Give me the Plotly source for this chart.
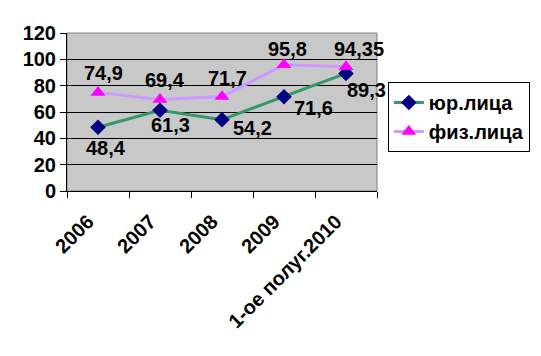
import plotly.graph_objects as go

categories = ["2006", "2007", "2008", "2009", "1-ое полуг.2010"]
yur_values = [48.4, 61.3, 54.2, 71.6, 89.3]
fiz_values = [74.9, 69.4, 71.7, 95.8, 94.35]
yur_labels = ["48,4", "61,3", "54,2", "71,6", "89,3"]
fiz_labels = ["74,9", "69,4", "71,7", "95,8", "94,35"]
y_ticks = [0, 20, 40, 60, 80, 100, 120]

# label offsets in pixels (style only): (dx right, dy down)
yur_label_offsets = [(8, 21), (10, 15), (30, 8), (29, 11), (20, 17)]
fiz_label_offsets = [(5, -19), (5, -20), (5, -19), (3, -16), (13, -18)]

FONT = "Liberation Sans, Arial, sans-serif"
FS = 20

fig = go.Figure()
fig.add_trace(go.Scatter(
    x=categories, y=yur_values, name="юр.лица",
    mode="lines+markers",
    line=dict(color="#339966", width=3),
    marker=dict(symbol="diamond", size=12, color="#000080", line=dict(width=0)),
    cliponaxis=False,
))
fig.add_trace(go.Scatter(
    x=categories, y=fiz_values, name="физ.лица",
    mode="lines+markers",
    line=dict(color="#cc99ff", width=3),
    marker=dict(symbol="triangle-up", size=13, color="#ff00ff", line=dict(width=0)),
    cliponaxis=False,
))

for vals, labels, offs in ((yur_values, yur_labels, yur_label_offsets),
                           (fiz_values, fiz_labels, fiz_label_offsets)):
    for i, (v, t, (dx, dy)) in enumerate(zip(vals, labels, offs)):
        fig.add_annotation(x=i, y=v, text=t, showarrow=False,
                           xanchor="center", yanchor="middle",
                           xshift=dx, yshift=-dy,
                           font=dict(family=FONT, size=FS, color="black", weight="bold"))

fig.add_shape(type="rect", xref="x domain", yref="y domain", x0=0, x1=1, y0=0, y1=1,
              line=dict(color="#808080", width=1), layer="below")

fig.update_layout(
    width=541, height=356,
    margin=dict(l=67, r=164, t=33, b=165, autoexpand=False),
    paper_bgcolor="white",
    plot_bgcolor="#c8c8c8",
    font=dict(family=FONT, size=FS, color="black", weight="bold"),
    showlegend=True,
    legend=dict(
        x=1.035, y=0.69, xanchor="left", yanchor="top",
        bordercolor="black", borderwidth=1, bgcolor="white",
        font=dict(family=FONT, size=FS, color="black", weight="bold"),
        itemwidth=30, tracegroupgap=0,
    ),
)
fig.update_xaxes(
    type="category", range=[-0.5, 4.5], automargin=False,
    tickangle=-45, tickson="boundaries",
    ticks="outside", ticklen=6, tickcolor="black",
    ticklabelstandoff=10, ticklabelshift=-10,
    showline=True, linecolor="black", linewidth=1,
    showgrid=False,
    tickfont=dict(family=FONT, size=FS, color="black", weight="bold"),
)
fig.update_yaxes(
    range=[0, 120], tickvals=y_ticks, automargin=False,
    ticks="outside", ticklen=6, tickcolor="black",
    showline=True, linecolor="black", linewidth=1,
    showgrid=True, gridcolor="black", gridwidth=1,
    zeroline=False,
    tickfont=dict(family=FONT, size=FS, color="black", weight="bold"),
)

fig.write_html("out.html",
               config={"displayModeBar": False},
               post_script="document.body.style.margin='0';document.body.style.overflow='hidden';")
